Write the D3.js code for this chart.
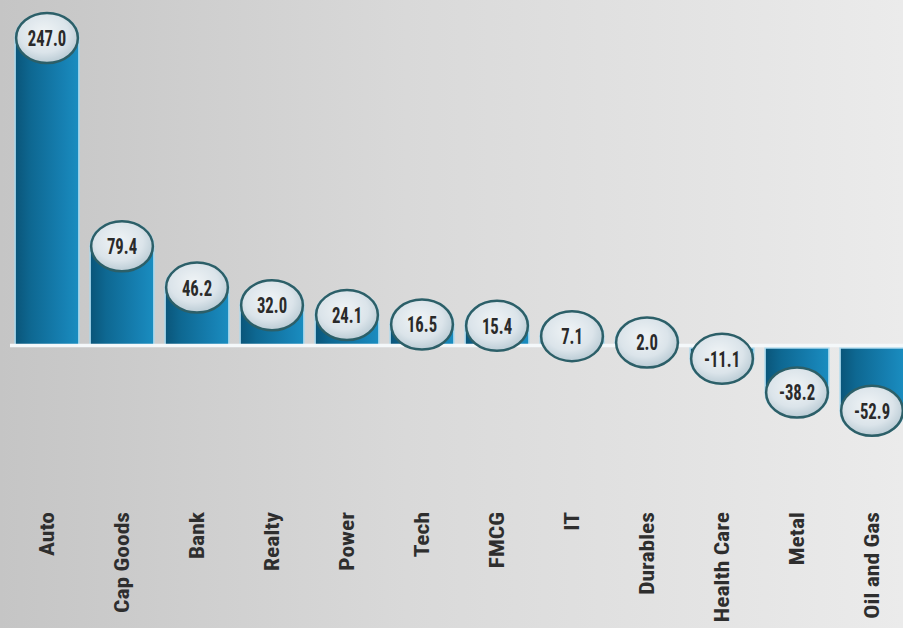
<!DOCTYPE html>
<html>
<head>
<meta charset="utf-8">
<script src="https://cdn.jsdelivr.net/npm/d3@7"></script>
<style>
  html, body { margin: 0; padding: 0; }
  svg { display: block; }
</style>
</head>
<body>
<svg id="chart" width="903" height="628"></svg>
<script>
// Sector returns (%)
const categories = ["Auto", "Cap Goods", "Bank", "Realty", "Power", "Tech", "FMCG", "IT", "Durables", "Health Care", "Metal", "Oil and Gas"];
const values = [247.0, 79.4, 46.2, 32.0, 24.1, 16.5, 15.4, 7.1, 2.0, -11.1, -38.2, -52.9];
const valueLabels = ["247.0", "79.4", "46.2", "32.0", "24.1", "16.5", "15.4", "7.1", "2.0", "-11.1", "-38.2", "-52.9"];

const W = 903, H = 628;
const FONT = "'Roboto Condensed', 'DejaVu Sans Condensed', 'Liberation Sans Narrow', 'Liberation Sans', sans-serif";
const svg = d3.select("#chart");
const defs = svg.append("defs");

// background: soft grey, darker on the left
const bg = defs.append("linearGradient").attr("id", "bg").attr("x1", 0).attr("x2", 1).attr("y1", 0).attr("y2", 0);
bg.append("stop").attr("offset", "0%").attr("stop-color", "#c5c5c5");
bg.append("stop").attr("offset", "45%").attr("stop-color", "#d9d9d9");
bg.append("stop").attr("offset", "100%").attr("stop-color", "#ebebeb");
svg.append("rect").attr("width", W).attr("height", H).attr("fill", "url(#bg)");

// cylinder shading for bars
const barGrad = defs.append("linearGradient").attr("id", "barGrad").attr("x1", 0).attr("x2", 1).attr("y1", 0).attr("y2", 0);
barGrad.append("stop").attr("offset", "0%").attr("stop-color", "#0a5579");
barGrad.append("stop").attr("offset", "25%").attr("stop-color", "#0e6892");
barGrad.append("stop").attr("offset", "75%").attr("stop-color", "#1680b2");
barGrad.append("stop").attr("offset", "100%").attr("stop-color", "#1a8dc0");

// bubble fill
const bubGrad = defs.append("radialGradient").attr("id", "bubGrad").attr("cx", "45%").attr("cy", "40%").attr("r", "65%");
bubGrad.append("stop").attr("offset", "0%").attr("stop-color", "#f0f4f6");
bubGrad.append("stop").attr("offset", "60%").attr("stop-color", "#dbe4ea");
bubGrad.append("stop").attr("offset", "100%").attr("stop-color", "#b3c6d0");

const x = d3.scaleBand().domain(categories).range([9.5, 909.5]).paddingInner(0.15).paddingOuter(0.075);
const y = d3.scaleLinear().domain([0, 247]).range([345, 38]);

const data = categories.map((c, i) => ({ cat: c, v: values[i], label: valueLabels[i] }));
const bw = x.bandwidth();
const rx = bw / 2, ry = 25;

// bar with a rounded (elliptical) end at the value
function barPath(d) {
  const x0 = x(d.cat), x1 = x0 + bw;
  const base = d.v >= 0 ? y(0) : y(0) + 3;
  const end = y(d.v);
  const sweep = d.v >= 0 ? 1 : 0;
  return `M${x0},${base} L${x0},${end} A${rx},${ry} 0 0 ${sweep} ${x1},${end} L${x1},${base} Z`;
}

svg.append("g").selectAll("path.bar").data(data).join("path")
  .attr("class", "bar")
  .attr("d", barPath)
  .attr("fill", "url(#barGrad)")
  .attr("stroke", "#a9d9ee")
  .attr("stroke-width", 1.5);

// baseline
svg.append("line")
  .attr("x1", 10).attr("x2", W)
  .attr("y1", y(0) + 0.5).attr("y2", y(0) + 0.5)
  .attr("stroke", "#f4f8fa").attr("stroke-width", 3.5);

// value bubbles
const bub = svg.append("g").selectAll("g").data(data).join("g")
  .attr("transform", d => `translate(${x(d.cat) + bw / 2},${y(d.v)})`);
bub.append("ellipse")
  .attr("rx", rx - 1).attr("ry", ry)
  .attr("fill", "url(#bubGrad)")
  .attr("stroke", "#2c5f68").attr("stroke-width", 2.5);
bub.append("text")
  .text(d => d.label)
  .attr("text-anchor", "middle")
  .attr("dy", "0.36em")
  .attr("transform", "scale(0.76,1)")
  .attr("font-family", FONT)
  .attr("font-weight", "bold")
  .attr("font-size", 22)
  .attr("fill", "#2a2a2a");

// category axis labels, rotated
const xAxis = d3.axisBottom(x).tickSize(0).tickPadding(0);
const ax = svg.append("g").attr("transform", "translate(0,512)").call(xAxis);
ax.select(".domain").remove();
ax.selectAll("text")
  .attr("transform", "rotate(-90) scale(1.12,1)")
  .attr("x", 0).attr("y", 0).attr("dy", "0.35em")
  .attr("text-anchor", "end")
  .attr("font-family", FONT)
  .attr("font-weight", "bold")
  .attr("font-size", 21)
  .attr("fill", "#2e2e2e");
</script>
</body>
</html>
